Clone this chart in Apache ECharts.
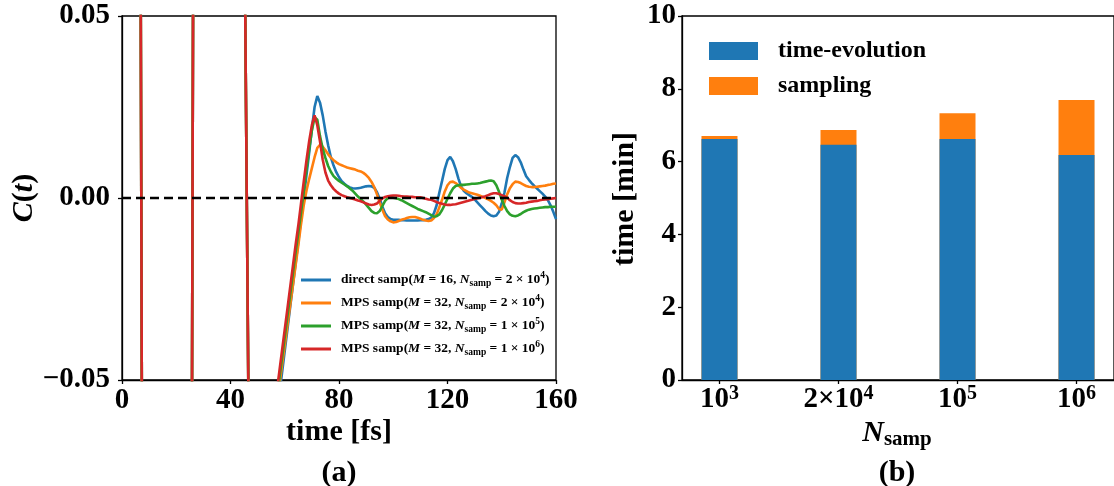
<!DOCTYPE html>
<html>
<head>
<meta charset="utf-8">
<script src="https://cdn.jsdelivr.net/npm/echarts@6/dist/echarts.min.js"></script>
<style>
html,body{margin:0;padding:0;background:#fff;}
#c{width:1114px;height:486px;}
</style>
</head>
<body>
<div id="c"></div>
<script>
// ---------- data: panel (a) ----------
const tEarly = [0, 2, 4, 6, 8, 10, 13, 16, 19, 22, 25, 27, 29, 32, 35, 38, 41, 44, 45, 47, 48, 50, 52, 54, 56];
const cEarly = [1.0, 0.75, 0.5, 0.30, -0.24, -0.5, -0.7, -0.75, -0.65, -0.45, -0.27, 0.27, 0.45, 0.55, 0.55, 0.42, 0.25, 0.12, 0.09, -0.09, -0.14, -0.19, -0.2, -0.16, -0.09];
const tLate = [57,58,59,60,61,62,63,64,65,66,67,68,69,70,71,72,73,74,75,76,77,78,79,80,81,82,83,84,85,86,87,88,89,90,91,92,93,94,95,96,97,98,99,100,101,102,103,104,105,106,107,108,109,110,111,112,113,114,115,116,117,118,119,120,121,122,123,124,125,126,127,128,129,130,131,132,133,134,135,136,137,138,139,140,141,142,143,144,145,146,147,148,149,150,151,152,153,154,155,156,157,158,159,160];
const blueLate = [-0.0600,-0.0540,-0.0480,-0.0420,-0.0360,-0.0300,-0.0240,-0.0180,-0.0120,-0.0060,0.0000,0.0062,0.0124,0.0190,0.0250,0.0280,0.0262,0.0227,0.0183,0.0145,0.0112,0.0089,0.0071,0.0057,0.0046,0.0039,0.0033,0.0029,0.0027,0.0026,0.0027,0.0028,0.0030,0.0032,0.0033,0.0032,0.0028,0.0016,-0.0002,-0.0024,-0.0042,-0.0052,-0.0058,-0.0060,-0.0060,-0.0060,-0.0061,-0.0061,-0.0062,-0.0062,-0.0062,-0.0062,-0.0062,-0.0061,-0.0061,-0.0060,-0.0058,-0.0054,-0.0042,-0.0020,0.0015,0.0047,0.0080,0.0104,0.0113,0.0101,0.0080,0.0054,0.0032,0.0020,0.0013,0.0008,0.0003,-0.0004,-0.0012,-0.0020,-0.0028,-0.0036,-0.0043,-0.0048,-0.0050,-0.0048,-0.0038,-0.0015,0.0015,0.0055,0.0085,0.0110,0.0118,0.0112,0.0098,0.0078,0.0060,0.0050,0.0041,0.0033,0.0026,0.0019,0.0012,0.0004,-0.0006,-0.0020,-0.0038,-0.0058];
const orangeLate = [-0.0570,-0.0515,-0.0460,-0.0405,-0.0350,-0.0295,-0.0240,-0.0185,-0.0130,-0.0072,-0.0020,0.0020,0.0052,0.0082,0.0112,0.0138,0.0146,0.0141,0.0131,0.0120,0.0111,0.0104,0.0098,0.0093,0.0090,0.0087,0.0084,0.0082,0.0080,0.0078,0.0075,0.0073,0.0069,0.0063,0.0055,0.0044,0.0030,0.0010,-0.0012,-0.0032,-0.0050,-0.0059,-0.0064,-0.0067,-0.0066,-0.0063,-0.0060,-0.0058,-0.0055,-0.0053,-0.0052,-0.0052,-0.0054,-0.0057,-0.0060,-0.0062,-0.0063,-0.0062,-0.0055,-0.0045,-0.0025,-0.0005,0.0018,0.0035,0.0044,0.0045,0.0041,0.0035,0.0028,0.0023,0.0019,0.0015,0.0013,0.0011,0.0009,0.0006,0.0003,0.0000,-0.0004,-0.0008,-0.0013,-0.0020,-0.0030,-0.0032,-0.0012,0.0010,0.0027,0.0038,0.0045,0.0044,0.0041,0.0037,0.0033,0.0031,0.0030,0.0030,0.0031,0.0032,0.0033,0.0034,0.0036,0.0037,0.0039,0.0040];
const greenLate = [-0.0555,-0.0497,-0.0439,-0.0381,-0.0323,-0.0265,-0.0207,-0.0149,-0.0095,-0.0040,0.0018,0.0078,0.0133,0.0185,0.0222,0.0215,0.0170,0.0135,0.0110,0.0088,0.0072,0.0060,0.0053,0.0047,0.0042,0.0037,0.0032,0.0026,0.0020,0.0012,0.0004,-0.0003,-0.0010,-0.0018,-0.0027,-0.0036,-0.0041,-0.0042,-0.0036,-0.0022,-0.0008,0.0000,0.0002,0.0001,-0.0001,-0.0003,-0.0006,-0.0010,-0.0014,-0.0018,-0.0022,-0.0026,-0.0030,-0.0033,-0.0036,-0.0039,-0.0043,-0.0047,-0.0051,-0.0050,-0.0045,-0.0033,-0.0018,-0.0002,0.0013,0.0026,0.0033,0.0035,0.0036,0.0036,0.0037,0.0038,0.0039,0.0039,0.0040,0.0041,0.0043,0.0045,0.0047,0.0048,0.0046,0.0035,0.0017,-0.0004,-0.0022,-0.0036,-0.0045,-0.0049,-0.0050,-0.0048,-0.0044,-0.0039,-0.0035,-0.0032,-0.0030,-0.0029,-0.0028,-0.0027,-0.0026,-0.0025,-0.0025,-0.0024,-0.0024,-0.0024];
const redLate = [-0.0535,-0.0477,-0.0419,-0.0361,-0.0303,-0.0245,-0.0187,-0.0129,-0.0075,-0.0015,0.0045,0.0103,0.0156,0.0200,0.0227,0.0200,0.0155,0.0105,0.0070,0.0048,0.0035,0.0025,0.0018,0.0012,0.0008,0.0005,0.0002,0.0000,-0.0002,-0.0004,-0.0007,-0.0009,-0.0012,-0.0015,-0.0018,-0.0019,-0.0018,-0.0015,-0.0008,-0.0001,0.0003,0.0005,0.0006,0.0007,0.0007,0.0006,0.0005,0.0004,0.0004,0.0003,0.0003,0.0002,0.0002,0.0002,0.0000,-0.0002,-0.0004,-0.0005,-0.0008,-0.0011,-0.0014,-0.0016,-0.0018,-0.0019,-0.0019,-0.0018,-0.0017,-0.0015,-0.0013,-0.0011,-0.0009,-0.0007,-0.0005,-0.0003,-0.0001,0.0001,0.0003,0.0005,0.0008,0.0011,0.0013,0.0013,0.0011,0.0008,0.0005,0.0001,-0.0006,-0.0011,-0.0014,-0.0015,-0.0015,-0.0014,-0.0013,-0.0011,-0.0010,-0.0009,-0.0008,-0.0006,-0.0005,-0.0004,-0.0003,-0.0002,-0.0001,0.0000];
const lineNames = ['direct', 'mps2e4', 'mps1e5', 'mps1e6'];

// ---------- data: panel (b) ----------
const barPos = [0, 1, 2, 3];
const tickBase = ['10', '2\u00d710', '10', '10'];
const tickExp = ['3', '4', '5', '6'];
const timeEvolution = [6.62, 6.46, 6.62, 6.18];
const sampling = [0.08, 0.41, 0.71, 1.51];

// ---------- styling ----------
const FF = '"Liberation Serif", "Times New Roman", serif';
const C_BLUE = '#1f77b4', C_ORANGE = '#ff7f0e', C_GREEN = '#2ca02c', C_RED = '#d62728';

const legendRich = {
  direct: '{a|direct samp(}{i|M}{a| = 16, }{i|N}{sub|samp}{a| = 2 \u00d7 10}{sup|4}{a|)}',
  mps2e4: '{a|MPS samp(}{i|M}{a| = 32, }{i|N}{sub|samp}{a| = 2 \u00d7 10}{sup|4}{a|)}',
  mps1e5: '{a|MPS samp(}{i|M}{a| = 32, }{i|N}{sub|samp}{a| = 1 \u00d7 10}{sup|5}{a|)}',
  mps1e6: '{a|MPS samp(}{i|M}{a| = 32, }{i|N}{sub|samp}{a| = 1 \u00d7 10}{sup|6}{a|)}'
};

function mk(late) {
  return tEarly.map((t, i) => [t, cEarly[i]]).concat(tLate.map((t, i) => [t, late[i]]));
}
const lateSets = [blueLate, orangeLate, greenLate, redLate];
const lineColors = [C_BLUE, C_ORANGE, C_GREEN, C_RED];

const labelFont = { fontFamily: FF, fontWeight: 'bold', fontSize: 29, color: '#000' };
const axisLineStyle = { show: true, onZero: false, lineStyle: { color: '#000', width: 1.3 } };
const axisTickStyle = { show: true, inside: false, length: 4, lineStyle: { color: '#000', width: 1.3 } };

const chart = echarts.init(document.getElementById('c'), null, { renderer: 'canvas' });

const series = [];
lineNames.forEach((n, k) => {
  series.push({
    name: n, type: 'line', xAxisIndex: 0, yAxisIndex: 0,
    data: mk(lateSets[k]), symbol: 'none', clip: true,
    lineStyle: { color: lineColors[k], width: 2.6 }, itemStyle: { color: lineColors[k] },
    z: 2 + k
  });
});
series.push({
  name: 'zero', type: 'line', xAxisIndex: 0, yAxisIndex: 0,
  data: [[0, 0], [160, 0]], symbol: 'none',
  lineStyle: { color: '#000', width: 2.6, type: [9, 5] }, z: 10, silent: true
});
// stacked bars: the upper (sampling) segment is drawn as the stacked total, the
// time-evolution part is drawn over it at the same position
series.push({
  name: 'sampling', type: 'bar', xAxisIndex: 1, yAxisIndex: 1,
  barWidth: 36, barGap: '-100%',
  data: barPos.map((p, i) => [p, timeEvolution[i] + sampling[i]]),
  itemStyle: { color: C_ORANGE }, z: 2
});
series.push({
  name: 'time-evolution', type: 'bar', xAxisIndex: 1, yAxisIndex: 1,
  barWidth: 36, barGap: '-100%',
  data: barPos.map((p, i) => [p, timeEvolution[i]]),
  itemStyle: { color: C_BLUE }, z: 3
});

const titleFont = 'bold 30px ' + FF;

chart.setOption({
  animation: false,
  backgroundColor: '#fff',
  grid: [
    { left: 122, top: 16, width: 434, height: 364, show: true, borderColor: '#000', borderWidth: 1.3, containLabel: false },
    { left: 682, top: 16, width: 435, height: 364, show: true, borderColor: '#000', borderWidth: 1.3, containLabel: false }
  ],
  xAxis: [
    {
      type: 'value', gridIndex: 0, min: 0, max: 160, interval: 40,
      axisLine: axisLineStyle, axisTick: axisTickStyle, splitLine: { show: false },
      axisLabel: Object.assign({ margin: 6, showMinLabel: true, showMaxLabel: true }, labelFont)
    },
    {
      type: 'value', gridIndex: 1, min: -0.315, max: 3.315,
      axisLine: axisLineStyle,
      axisTick: Object.assign({ customValues: barPos }, axisTickStyle),
      splitLine: { show: false },
      axisLabel: {
        customValues: barPos, margin: 4,
        formatter: function (v) {
          const i = Math.round(v);
          return '{b|' + tickBase[i] + '}{s|' + tickExp[i] + '}';
        },
        rich: {
          b: { fontFamily: FF, fontWeight: 'bold', fontSize: 29, color: '#000', lineHeight: 32 },
          s: { fontFamily: FF, fontWeight: 'bold', fontSize: 20, color: '#000', lineHeight: 20, verticalAlign: 'top' }
        }
      }
    }
  ],
  yAxis: [
    {
      type: 'value', gridIndex: 0, min: -0.05, max: 0.05, interval: 0.05,
      axisLine: axisLineStyle, axisTick: axisTickStyle, splitLine: { show: false },
      axisLabel: Object.assign({
        margin: 12,
        formatter: function (v) { return (v < -1e-9 ? '\u2212' : '') + Math.abs(v).toFixed(2); }
      }, labelFont)
    },
    {
      type: 'value', gridIndex: 1, min: 0, max: 10, interval: 2,
      axisLine: axisLineStyle, axisTick: axisTickStyle, splitLine: { show: false },
      axisLabel: Object.assign({ margin: 6 }, labelFont)
    }
  ],
  legend: [
    {
      data: lineNames, orient: 'vertical', left: 301, top: 271, padding: 0,
      itemWidth: 30, itemHeight: 3, itemGap: 5, icon: 'rect',
      selectedMode: false,
      formatter: function (name) { return legendRich[name]; },
      textStyle: {
        padding: [0, 0, 0, 5],
        rich: {
          a: { fontFamily: FF, fontWeight: 'bold', fontSize: 13.5, color: '#000', lineHeight: 18 },
          i: { fontFamily: FF, fontWeight: 'bold', fontStyle: 'italic', fontSize: 13.5, color: '#000', lineHeight: 18 },
          sub: { fontFamily: FF, fontWeight: 'bold', fontSize: 9.5, color: '#000', lineHeight: 9, verticalAlign: 'bottom' },
          sup: { fontFamily: FF, fontWeight: 'bold', fontSize: 9.5, color: '#000', lineHeight: 9, verticalAlign: 'top' }
        }
      }
    },
    {
      data: ['time-evolution', 'sampling'], orient: 'vertical', left: 709, top: 39, padding: 0,
      itemWidth: 49, itemHeight: 18, itemGap: 11, icon: 'rect', selectedMode: false,
      textStyle: { fontFamily: FF, fontWeight: 'bold', fontSize: 24, color: '#000', padding: [0, 0, 0, 15] }
    }
  ],
  graphic: [
    { type: 'text', x: 339, y: 432, style: { text: 'time [fs]', font: titleFont, fill: '#000', align: 'center', verticalAlign: 'middle', textAlign: 'center', textVerticalAlign: 'middle' } },
    { type: 'text', x: 339, y: 473, style: { text: '(a)', font: titleFont, fill: '#000', align: 'center', verticalAlign: 'middle', textAlign: 'center', textVerticalAlign: 'middle' } },
    { type: 'text', x: 24, y: 198, rotation: Math.PI / 2, style: {
        text: '{i|C}{n|(}{i|t}{n|)}', align: 'center', verticalAlign: 'middle', textAlign: 'center', textVerticalAlign: 'middle',
        rich: {
          i: { fontFamily: FF, fontWeight: 'bold', fontStyle: 'italic', fontSize: 30, fill: '#000', color: '#000' },
          n: { fontFamily: FF, fontWeight: 'bold', fontSize: 30, fill: '#000', color: '#000' }
        } } },
    { type: 'text', x: 625, y: 199, rotation: Math.PI / 2, style: { text: 'time [min]', font: titleFont, fill: '#000', align: 'center', verticalAlign: 'middle', textAlign: 'center', textVerticalAlign: 'middle' } },
    { type: 'text', x: 897, y: 433, style: {
        text: '{i|N}{s|samp}', align: 'center', verticalAlign: 'middle', textAlign: 'center', textVerticalAlign: 'middle',
        rich: {
          i: { fontFamily: FF, fontWeight: 'bold', fontStyle: 'italic', fontSize: 30, fill: '#000', color: '#000', lineHeight: 34 },
          s: { fontFamily: FF, fontWeight: 'bold', fontSize: 21, fill: '#000', color: '#000', lineHeight: 21, verticalAlign: 'bottom' }
        } } },
    { type: 'text', x: 897, y: 473, style: { text: '(b)', font: titleFont, fill: '#000', align: 'center', verticalAlign: 'middle', textAlign: 'center', textVerticalAlign: 'middle' } }
  ],
  series: series
});
</script>
</body>
</html>
